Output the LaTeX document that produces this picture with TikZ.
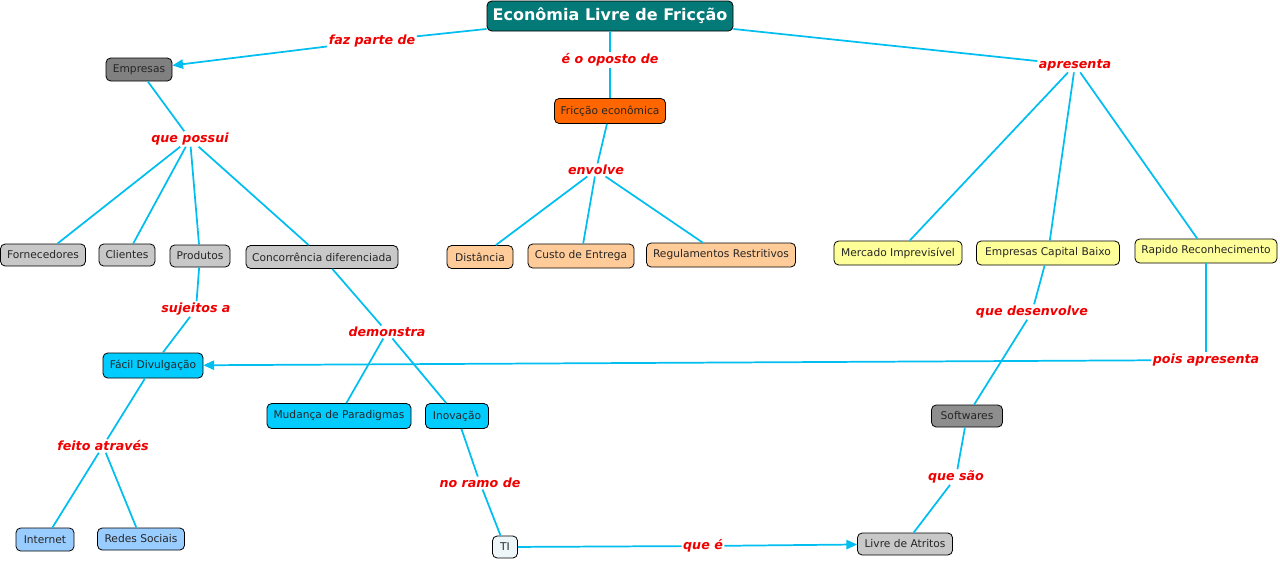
\documentclass[tikz,border=0pt]{standalone}
\usepackage{fontspec}
\setmainfont{DejaVu Sans}
\usetikzlibrary{arrows.meta}
\definecolor{lnk}{RGB}{0,190,240}
\definecolor{teal1}{RGB}{4,122,120}
\definecolor{grayD}{RGB}{128,128,128}
\definecolor{grayS}{RGB}{142,142,142}
\definecolor{grayL}{RGB}{200,200,200}
\definecolor{orng}{RGB}{255,102,0}
\definecolor{peach}{RGB}{255,204,153}
\definecolor{ylw}{RGB}{255,255,153}
\definecolor{cyanB}{RGB}{0,204,255}
\definecolor{ltblue}{RGB}{153,204,255}
\definecolor{tiw}{RGB}{238,246,250}
\definecolor{lblred}{RGB}{240,0,0}
\tikzset{
  box/.style={draw=black, line width=0.6pt, rounded corners=3.5pt, inner sep=0pt,
    font=\fontsize{8pt}{9.5pt}\selectfont, text=black!85},
  lbl/.style={fill=white, inner sep=1pt, text=lblred,
    font=\fontsize{9.5pt}{11pt}\selectfont\bfseries\itshape},
  con/.style={draw=lnk, line width=1.3pt},
  arr/.style={con, -{Triangle[length=8pt,width=7pt]}}
}
\begin{document}
\begin{tikzpicture}[x=0.75pt,y=-0.75pt]
\useasboundingbox (0,0) rectangle (1280,561);
% nodes
\node[box, fill=teal1, text=white, minimum width=184.5pt, minimum height=22.5pt,
  font=\fontsize{12pt}{14pt}\selectfont\bfseries] (title) at (610,16) {Econômia Livre de Fricção};
\node[box, fill=grayD, minimum width=49.5pt, minimum height=17.25pt] (emp) at (139,69.5) {Empresas};
\node[box, fill=orng, minimum width=83.25pt, minimum height=18.75pt] (fric) at (610,111) {Fricção econômica};
\node[box, fill=grayL, minimum width=63.75pt, minimum height=16.5pt] (forn) at (43,255) {Fornecedores};
\node[box, fill=grayL, minimum width=42pt, minimum height=16.5pt] (cli) at (127,255) {Clientes};
\node[box, fill=grayL, minimum width=45pt, minimum height=16.5pt] (prod) at (200,256) {Produtos};
\node[box, fill=grayL, minimum width=114pt, minimum height=17.25pt] (conc) at (322,257) {Concorrência diferenciada};
\node[box, fill=peach, minimum width=49.5pt, minimum height=17.25pt] (dist) at (480,257) {Distância};
\node[box, fill=peach, minimum width=79.5pt, minimum height=18pt] (custo) at (581,256) {Custo de Entrega};
\node[box, fill=peach, minimum width=111.75pt, minimum height=18pt] (reg) at (721,255) {Regulamentos Restritivos};
\node[box, fill=ylw, minimum width=96pt, minimum height=18pt] (merc) at (898,253) {Mercado Imprevisível};
\node[box, fill=ylw, minimum width=107.25pt, minimum height=18pt] (ecb) at (1048,253) {Empresas Capital Baixo};
\node[box, fill=ylw, minimum width=106.5pt, minimum height=18pt] (rap) at (1206,251) {Rapido Reconhecimento};
\node[box, fill=cyanB, minimum width=75pt, minimum height=18.75pt] (fac) at (153,365.5) {Fácil Divulgação};
\node[box, fill=cyanB, minimum width=108pt, minimum height=18.75pt] (mud) at (339,416) {Mudança de Paradigmas};
\node[box, fill=cyanB, minimum width=47.25pt, minimum height=18.75pt] (inov) at (457,416) {Inovação};
\node[box, fill=grayS, minimum width=53.25pt, minimum height=16.5pt] (soft) at (967,416) {Softwares};
\node[box, fill=ltblue, minimum width=43.5pt, minimum height=17.25pt] (inet) at (45,539.5) {Internet};
\node[box, fill=ltblue, minimum width=65.25pt, minimum height=16.5pt] (redes) at (141,539) {Redes Sociais};
\node[box, fill=tiw, minimum width=18.75pt, minimum height=16.5pt] (ti) at (505,547) {TI};
\node[box, fill=grayL, minimum width=71.25pt, minimum height=16.5pt] (livre) at (905,544) {Livre de Atritos};
% labels
\node[lbl] (l1) at (372,41) {faz parte de};
\node[lbl] (l2) at (610,60) {é o oposto de};
\node[lbl] (l3) at (1075,65) {apresenta};
\node[lbl] (l4) at (190,139) {que possui};
\node[lbl] (l5) at (596,170) {envolve};
\node[lbl] (l6) at (196,309) {sujeitos a};
\node[lbl] (l7) at (387,332) {demonstra};
\node[lbl] (l8) at (1206,360) {pois apresenta};
\node[lbl] (l9) at (1032,312) {que desenvolve};
\node[lbl] (l10) at (103,446) {feito através};
\node[lbl] (l11) at (480,483) {no ramo de};
\node[lbl] (l12) at (956,477) {que são};
\node[lbl] (l13) at (703,546) {que é};
% connectors
\draw[con] (title) -- (l1);
\draw[arr] (l1) -- (emp);
\draw[con] (title) -- (l2);
\draw[con] (l2) -- (fric);
\draw[con] (title) -- (l3);
\draw[con] (l3) -- (merc);
\draw[con] (l3) -- (ecb);
\draw[con] (l3) -- (rap);
\draw[con] (emp) -- (l4);
\draw[con] (l4) -- (forn);
\draw[con] (l4) -- (cli);
\draw[con] (l4) -- (prod);
\draw[con] (l4) -- (conc);
\draw[con] (fric) -- (l5);
\draw[con] (l5) -- (dist);
\draw[con] (l5) -- (custo);
\draw[con] (l5) -- (reg);
\draw[con] (prod) -- (l6);
\draw[con] (l6) -- (fac);
\draw[con] (conc) -- (l7);
\draw[con] (l7) -- (mud);
\draw[con] (l7) -- (inov);
\draw[con] (rap) -- (l8);
\draw[arr] (l8) -- (fac);
\draw[con] (ecb) -- (l9);
\draw[con] (l9) -- (soft);
\draw[con] (fac) -- (l10);
\draw[con] (l10) -- (inet);
\draw[con] (l10) -- (redes);
\draw[con] (inov) -- (l11);
\draw[con] (l11) -- (ti);
\draw[con] (soft) -- (l12);
\draw[con] (l12) -- (livre);
\draw[con] (ti) -- (l13);
\draw[arr] (l13) -- (livre);
\end{tikzpicture}
\end{document}
